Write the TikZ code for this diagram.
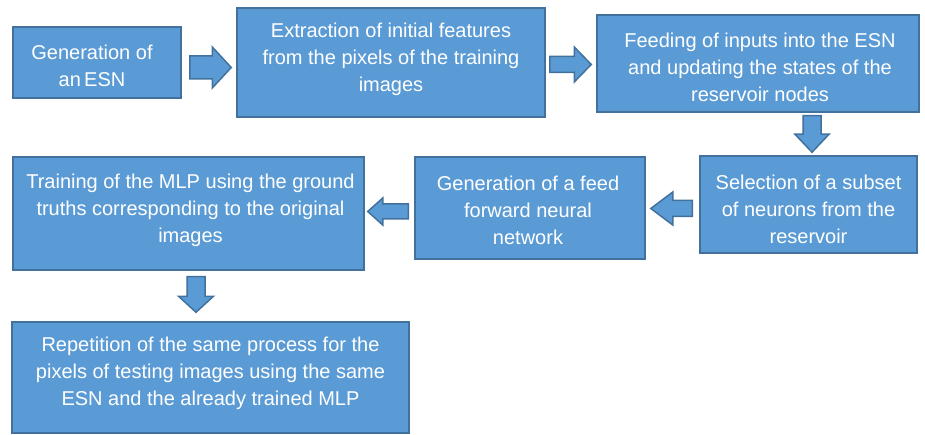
\documentclass[tikz,border=0pt]{standalone}
\usepackage{fontspec}
\setmainfont{Liberation Sans}
\usetikzlibrary{calc}

\definecolor{boxfill}{HTML}{5B9BD5}
\definecolor{boxline}{HTML}{41719C}

\tikzset{
  stagebox/.style={draw=boxline, fill=boxfill, line width=1.5pt, inner sep=0pt},
  stagetext/.style={text=white, align=center, inner sep=0pt,
    font=\fontsize{20}{27}\selectfont},
  fatarrow/.style={draw=boxline, fill=boxfill, line width=1.5pt, line join=miter},
}

% Block arrow from #1 (tail) to #2 (tip):
% #3 shaft half width, #4 head half width, #5 head length
\newcommand\blockarrow[5]{%
  \coordinate (ba-n) at ($(#2)!#5!(#1)$);
  \coordinate (ba-tl) at ($(#1)!#3!90:(#2)$);
  \coordinate (ba-tr) at ($(#1)!#3!-90:(#2)$);
  \coordinate (ba-nl) at ($(ba-n)!#3!-90:(#2)$);
  \coordinate (ba-nr) at ($(ba-n)!#3!90:(#2)$);
  \coordinate (ba-hl) at ($(ba-n)!#4!-90:(#2)$);
  \coordinate (ba-hr) at ($(ba-n)!#4!90:(#2)$);
  \draw[fatarrow] (ba-tl) -- (ba-nr) -- (ba-hr) -- (#2) -- (ba-hl) -- (ba-nl) -- (ba-tr) -- cycle;
}

\begin{document}
\begin{tikzpicture}[x=1pt, y=1pt]
  \useasboundingbox (0,0) rectangle (925,-435);

  % process boxes
  \node[stagebox, minimum width=168pt, minimum height=71pt]  (b1) at (97,-62.5) {};
  \node[stagebox, minimum width=308pt, minimum height=109pt] (b2) at (391,-62.5) {};
  \node[stagebox, minimum width=322pt, minimum height=97pt]  (b3) at (758,-63.5) {};
  \node[stagebox, minimum width=217pt, minimum height=97pt]  (b4) at (808.5,-204.5) {};
  \node[stagebox, minimum width=230pt, minimum height=102pt] (b5) at (530,-208) {};
  \node[stagebox, minimum width=351pt, minimum height=113pt] (b6) at (188.5,-213.5) {};
  \node[stagebox, minimum width=397pt, minimum height=111pt] (b7) at (210.5,-377.5) {};

  % box captions
  \node[stagetext] (t1) at ([xshift=-5pt,yshift=-3pt]b1.center) {Generation of\\an\,ESN};
  \node[stagetext] (t2) at ([yshift=3pt]b2.center) {Extraction of initial features\\from the pixels of the training\\images};
  \node[stagetext] (t3) at ([xshift=2pt,yshift=-4pt]b3.center) {Feeding of inputs into the ESN\\and updating the states of the\\reservoir nodes};
  \node[stagetext] (t4) at ([yshift=-4.5pt]b4.center) {Selection of a subset\\of neurons from the\\reservoir};
  \node[stagetext] (t5) at ([xshift=-2pt,yshift=-2pt]b5.center) {Generation of a feed\\forward neural\\network};
  \node[stagetext] (t6) at ([xshift=2pt,yshift=3pt]b6.center) {Training of the MLP using the ground\\truths corresponding to the original\\images};
  \node[stagetext] (t7) at ([yshift=4pt]b7.center) {Repetition of the same process for the\\pixels of testing images using the same\\ESN and the already trained MLP};

  % flow arrows
  \blockarrow{[xshift=8pt,yshift=-5pt]b1.east}{[xshift=-5pt,yshift=-5pt]b2.west}{11.5pt}{20.5pt}{19pt}
  \blockarrow{[xshift=4pt,yshift=-2pt]b2.east}{[xshift=-5pt,yshift=-1pt]b3.west}{8pt}{17.5pt}{17pt}
  \blockarrow{[xshift=54pt,yshift=-3pt]b3.south}{[xshift=3.5pt,yshift=3pt]b4.north}{9pt}{17pt}{18pt}
  \blockarrow{[xshift=-7pt,yshift=-4pt]b4.west}{[xshift=5pt,yshift=-0.5pt]b5.east}{8pt}{16.5pt}{22pt}
  \blockarrow{[xshift=-6pt,yshift=-3.5pt]b5.west}{[xshift=3pt,yshift=2pt]b6.east}{7.5pt}{13.5pt}{15pt}
  \blockarrow{[xshift=7.5pt,yshift=-6pt]b6.south}{[xshift=-14.5pt,yshift=9pt]b7.north}{9pt}{17.5pt}{16pt}
\end{tikzpicture}
\end{document}
